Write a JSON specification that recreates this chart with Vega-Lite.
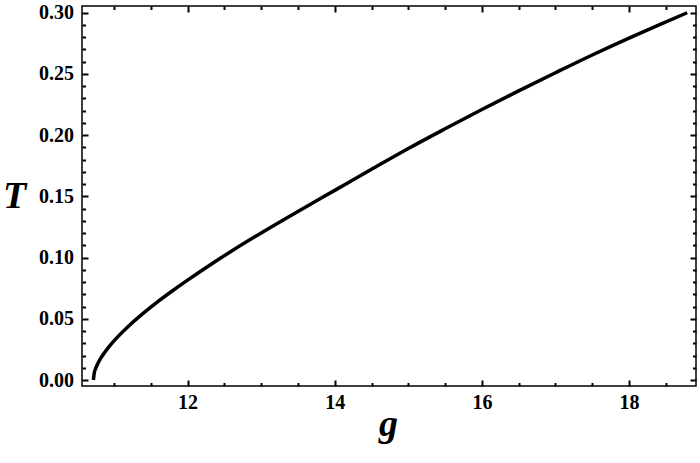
{
  "$schema": "https://vega.github.io/schema/vega-lite/v6.json",
  "width": 614,
  "height": 380,
  "autosize": {"type": "none"},
  "padding": {"left": 82, "top": 6, "right": 4, "bottom": 77},
  "background": "white",
  "config": {
    "view": {"stroke": "black", "strokeWidth": 1.5},
    "axis": {
      "grid": false,
      "domain": false,
      "tickColor": "black",
      "tickWidth": 2,
      "labelFont": "Liberation Serif",
      "labelFontWeight": "bold",
      "labelFontSize": 20,
      "labelColor": "black",
      "titleFont": "Liberation Serif",
      "titleFontStyle": "italic",
      "titleFontWeight": "bold",
      "titleFontSize": 38,
      "titleColor": "black"
    }
  },
  "data": {
    "values": [
      {"g": 10.72, "T": 0.0},
      {"g": 10.73, "T": 0.0052},
      {"g": 10.75, "T": 0.0093},
      {"g": 10.78, "T": 0.0134},
      {"g": 10.82, "T": 0.0178},
      {"g": 10.87, "T": 0.0223},
      {"g": 10.95, "T": 0.0285},
      {"g": 11.05, "T": 0.0352},
      {"g": 11.2, "T": 0.0441},
      {"g": 11.4, "T": 0.0546},
      {"g": 11.6, "T": 0.0642},
      {"g": 11.8, "T": 0.0731},
      {"g": 12.0, "T": 0.0816},
      {"g": 12.3, "T": 0.0938},
      {"g": 12.6, "T": 0.1054},
      {"g": 13.0, "T": 0.1201},
      {"g": 13.5, "T": 0.1377},
      {"g": 14.0, "T": 0.1549},
      {"g": 14.5, "T": 0.1721},
      {"g": 15.0, "T": 0.1891},
      {"g": 15.5, "T": 0.2052},
      {"g": 16.0, "T": 0.2209},
      {"g": 16.5, "T": 0.2362},
      {"g": 17.0, "T": 0.2510},
      {"g": 17.5, "T": 0.2655},
      {"g": 18.0, "T": 0.2793},
      {"g": 18.4, "T": 0.2899},
      {"g": 18.79, "T": 0.3}
    ]
  },
  "resolve": {"axis": {"x": "independent", "y": "independent"}},
  "layer": [
    {
      "mark": {"type": "line", "color": "black", "strokeWidth": 3.5, "interpolate": "monotone", "clip": true},
      "encoding": {
        "x": {
          "field": "g", "type": "quantitative",
          "scale": {"domain": [10.565, 18.91], "nice": false, "zero": false},
          "axis": {
            "orient": "bottom", "values": [12, 14, 16, 18], "tickSize": -6, "labelPadding": 12,
            "title": "g", "titleX": 306, "titleY": 49, "titleAlign": "center", "titleBaseline": "alphabetic"
          }
        },
        "y": {
          "field": "T", "type": "quantitative",
          "scale": {"domain": [-0.0049, 0.3055], "nice": false, "zero": false},
          "axis": {
            "orient": "left", "values": [0, 0.05, 0.1, 0.15, 0.2, 0.25, 0.3], "format": ".2f",
            "tickSize": -6, "labelPadding": 14.5,
            "title": "T", "titleAngle": 0, "titleX": -68, "titleY": 201, "titleAlign": "center", "titleBaseline": "alphabetic"
          }
        }
      }
    },
    {
      "mark": {"type": "line", "strokeOpacity": 0},
      "encoding": {
        "x": {
          "field": "g", "type": "quantitative",
          "scale": {"domain": [10.565, 18.91], "nice": false, "zero": false},
          "axis": {"orient": "bottom", "values": [11, 11.5, 12.5, 13, 13.5, 14.5, 15, 15.5, 16.5, 17, 17.5, 18.5], "tickSize": -3.5, "labels": false, "title": null}
        },
        "y": {
          "field": "T", "type": "quantitative",
          "scale": {"domain": [-0.0049, 0.3055], "nice": false, "zero": false},
          "axis": {"orient": "left", "values": [0.01, 0.02, 0.03, 0.04, 0.06, 0.07, 0.08, 0.09, 0.11, 0.12, 0.13, 0.14, 0.16, 0.17, 0.18, 0.19, 0.21, 0.22, 0.23, 0.24, 0.26, 0.27, 0.28, 0.29], "tickSize": -3.5, "labels": false, "title": null}
        }
      }
    },
    {
      "mark": {"type": "line", "strokeOpacity": 0},
      "encoding": {
        "x": {
          "field": "g", "type": "quantitative",
          "scale": {"domain": [10.565, 18.91], "nice": false, "zero": false},
          "axis": {"orient": "top", "values": [12, 14, 16, 18], "tickSize": -6, "labels": false, "title": null}
        },
        "y": {
          "field": "T", "type": "quantitative",
          "scale": {"domain": [-0.0049, 0.3055], "nice": false, "zero": false},
          "axis": {"orient": "right", "values": [0, 0.05, 0.1, 0.15, 0.2, 0.25, 0.3], "tickSize": -6, "labels": false, "title": null}
        }
      }
    },
    {
      "mark": {"type": "line", "strokeOpacity": 0},
      "encoding": {
        "x": {
          "field": "g", "type": "quantitative",
          "scale": {"domain": [10.565, 18.91], "nice": false, "zero": false},
          "axis": {"orient": "top", "values": [11, 11.5, 12.5, 13, 13.5, 14.5, 15, 15.5, 16.5, 17, 17.5, 18.5], "tickSize": -3.5, "labels": false, "title": null}
        },
        "y": {
          "field": "T", "type": "quantitative",
          "scale": {"domain": [-0.0049, 0.3055], "nice": false, "zero": false},
          "axis": {"orient": "right", "values": [0.01, 0.02, 0.03, 0.04, 0.06, 0.07, 0.08, 0.09, 0.11, 0.12, 0.13, 0.14, 0.16, 0.17, 0.18, 0.19, 0.21, 0.22, 0.23, 0.24, 0.26, 0.27, 0.28, 0.29], "tickSize": -3.5, "labels": false, "title": null}
        }
      }
    }
  ]
}
